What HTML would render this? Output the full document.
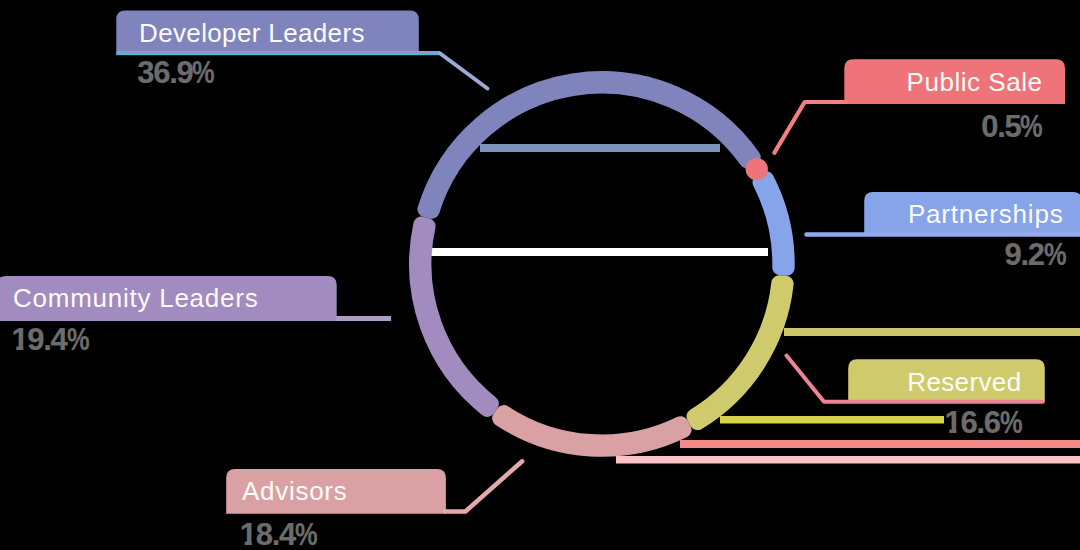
<!DOCTYPE html>
<html><head><meta charset="utf-8">
<style>
html,body{margin:0;padding:0;background:#000;width:1080px;height:550px;overflow:hidden;position:relative;}
.lbl{position:absolute;font-family:"Liberation Sans",sans-serif;font-size:26px;color:#fbfbfb;white-space:nowrap;line-height:1;}
.pct{position:absolute;font-family:"Liberation Sans",sans-serif;font-weight:bold;font-size:31px;color:#6c6c6c;-webkit-text-stroke:0.2px #6c6c6c;letter-spacing:-1.3px;white-space:nowrap;line-height:1;}
.pc{display:inline-block;transform:scaleX(0.82);transform-origin:0 50%;}
.one{display:inline-block;clip-path:polygon(0 0,100% 0,100% 67%,75% 67%,75% 100%,31% 100%,31% 67%,0 67%);}
svg{position:absolute;left:0;top:0;}
</style></head><body>
<svg width="1080" height="550" viewBox="0 0 1080 550">
<rect x="480" y="144" width="240" height="8" fill="#7b93b8"/>
<rect x="431" y="248" width="337" height="8" fill="#ffffff"/>
<rect x="784" y="328" width="296" height="8" fill="#cdc66a"/>
<rect x="720" y="416" width="224" height="7.5" fill="#d6d24a"/>
<rect x="680" y="440" width="400" height="8" fill="#f28a8a"/>
<rect x="616" y="456" width="464" height="7.5" fill="#fdc3c8"/>
<path d="M425.44 209.11 A184.80 184.80 0 0 1 752.76 157.26 L747.37 160.73 A178.40 178.40 0 0 0 431.63 210.74 Z" fill="#7f85bc" stroke="#7f85bc" stroke-width="16" stroke-linejoin="round"/>
<path d="M766.09 179.19 A184.80 184.80 0 0 1 786.66 267.77 L780.27 267.36 A178.40 178.40 0 0 0 760.53 182.37 Z" fill="#87a3e9" stroke="#87a3e9" stroke-width="16" stroke-linejoin="round"/>
<path d="M785.64 283.73 A184.80 184.80 0 0 1 697.58 422.10 L694.50 416.49 A178.40 178.40 0 0 0 779.25 283.33 Z" fill="#cfcb6c" stroke="#cfcb6c" stroke-width="16" stroke-linejoin="round"/>
<path d="M683.55 429.79 A184.80 184.80 0 0 1 500.12 418.24 L503.87 413.06 A178.40 178.40 0 0 0 680.47 424.17 Z" fill="#d9a1a3" stroke="#d9a1a3" stroke-width="16" stroke-linejoin="round"/>
<path d="M487.16 408.87 A184.80 184.80 0 0 1 421.36 224.57 L427.55 226.21 A178.40 178.40 0 0 0 490.92 403.68 Z" fill="#a28bbe" stroke="#a28bbe" stroke-width="16" stroke-linejoin="round"/>
<circle cx="756.74" cy="169.11" r="11.2" fill="#ef7479"/>
<path d="M116.3 53 L116.3 19.5 Q116.3 10.5 125.3 10.5 L409.8 10.5 Q418.8 10.5 418.8 19.5 L418.8 53 Z" fill="#7f85bc"/>
<path d="M844.3 104 L844.3 68.2 Q844.3 59.2 853.3 59.2 L1056 59.2 Q1065 59.2 1065 68.2 L1065 104 Z" fill="#ef7479"/>
<path d="M864.2 234.5 L864.2 201 Q864.2 192 873.2 192 L1073 192 Q1082 192 1082 201 L1082 234.5 Z" fill="#87a3e9"/>
<path d="M-3 321 L-3 285 Q-3 276 6 276 L327.7 276 Q336.7 276 336.7 285 L336.7 321 Z" fill="#a28bbe"/>
<path d="M848.2 401.8 L848.2 368.3 Q848.2 359.3 857.2 359.3 L1035.8 359.3 Q1044.8 359.3 1044.8 368.3 L1044.8 401.8 Z" fill="#cfcb6c"/>
<path d="M226.2 513.8 L226.2 478.1 Q226.2 469.1 235.2 469.1 L436.9 469.1 Q445.9 469.1 445.9 478.1 L445.9 513.8 Z" fill="#d9a1a3"/>
<rect x="116.3" y="51" width="323" height="2.2" fill="#8d98cc"/>
<rect x="116.3" y="53" width="323" height="2.2" fill="#4fb9d3"/>
<line x1="439.5" y1="53" x2="487.5" y2="88.5" stroke="#9ea8d8" stroke-width="4" stroke-linecap="round"/>
<polyline points="774.3,152.8 804.7,102 846,102" stroke="#f2807f" stroke-width="4.2" fill="none" stroke-linecap="round" stroke-linejoin="round"/>
<line x1="806.5" y1="234.5" x2="1080" y2="234.5" stroke="#92aaf0" stroke-width="4.5" stroke-linecap="round"/>
<polyline points="786.5,355.6 824,401.8 1042.8,401.8" stroke="#ee8396" stroke-width="4" fill="none" stroke-linecap="round" stroke-linejoin="round"/>
<polyline points="445,511.5 465.4,511.5 522.2,461.3" stroke="#e2aaaa" stroke-width="4.5" fill="none" stroke-linecap="round" stroke-linejoin="round"/>
<line x1="336" y1="318.5" x2="391.1" y2="318.5" stroke="#ad9cc6" stroke-width="5"/>
</svg>

<div class="lbl" style="left:139px;top:20px;letter-spacing:0.36px">Developer Leaders</div>
<div class="lbl" style="right:37.6px;top:69px;letter-spacing:0.52px">Public Sale</div>
<div class="lbl" style="right:16.5px;top:201px;letter-spacing:0.8px">Partnerships</div>
<div class="lbl" style="left:13px;top:285px;letter-spacing:0.75px">Community Leaders</div>
<div class="lbl" style="right:58.5px;top:369px;letter-spacing:0.37px">Reserved</div>
<div class="lbl" style="left:242px;top:477.5px;letter-spacing:0.72px">Advisors</div>

<div class="pct" style="left:137.25px;top:56.75px">36.9<span class="pc">%</span></div>
<div class="pct" style="left:981.25px;top:110.75px">0.5<span class="pc">%</span></div>
<div class="pct" style="left:1004.5px;top:239.3px">9.2<span class="pc">%</span></div>
<div class="pct" style="left:11.4px;top:324.35px"><span class="one">1</span>9.4<span class="pc">%</span></div>
<div class="pct" style="left:944.5px;top:406.65px"><span class="one">1</span>6.6<span class="pc">%</span></div>
<div class="pct" style="left:239.8px;top:519.45px"><span class="one">1</span>8.4<span class="pc">%</span></div>
</body></html>
